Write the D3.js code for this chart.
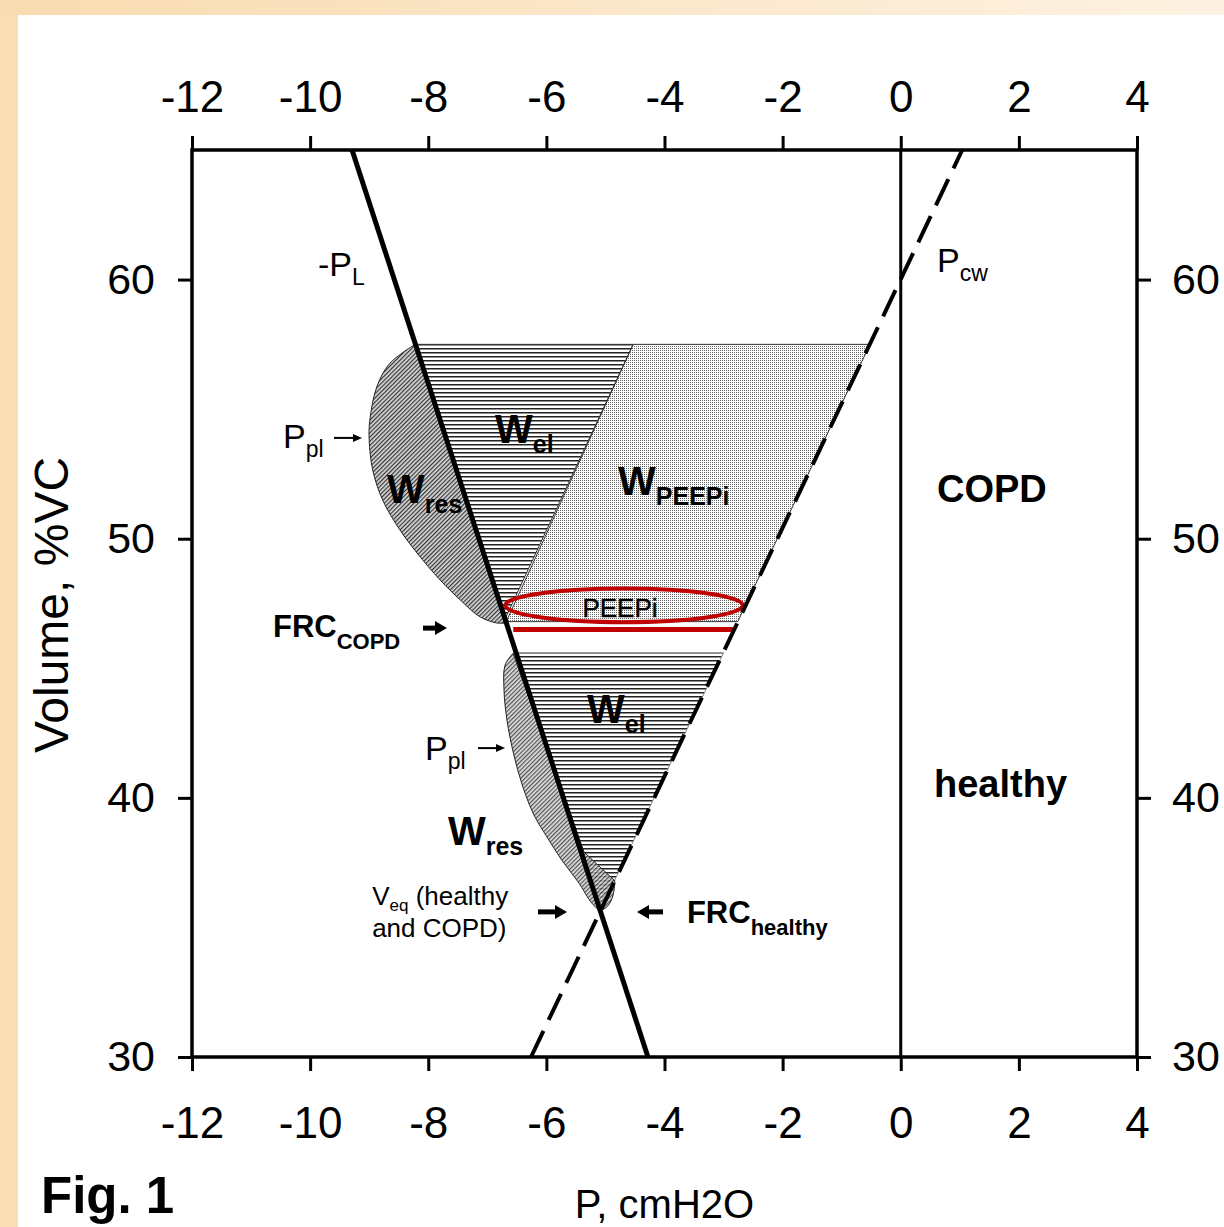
<!DOCTYPE html>
<html>
<head>
<meta charset="utf-8">
<script src="https://cdn.jsdelivr.net/npm/d3@7"></script>
<style>
    html, body { margin: 0; padding: 0; background: #fff; }
    svg { display: block; font-family: "Liberation Sans", Arial, sans-serif; }
</style>
</head>
<body>
<svg id="fig" width="1224" height="1227"></svg>
<script>
// tick values
const pTicks = [-12, -10, -8, -6, -4, -2, 0, 2, 4];
const vTicks = [30, 40, 50, 60];

// pressure-volume lines, [P cmH2O, V %VC]
const lungLine = [[-9.29, 65], [-4.28, 30]];       // -PL
const chestWallLine = [[-6.26, 30], [1.04, 65]];   // Pcw
const zeroLine = [[0, 30], [0, 65]];

// work areas
const peepiArea = [[-4.53, 57.5], [-0.52, 57.5], [-2.76, 46.8], [-6.68, 46.8]];
const copdElArea = [[-8.22, 57.5], [-4.53, 57.5], [-6.70, 46.9]];
const healthyElArea = [[-6.51, 45.6], [-3.0, 45.6], [-5.09, 35.65]];
const copdResCurve = [[-8.22, 57.5], [-8.65, 56.77], [-8.87, 55.87], [-8.99, 54.56], [-9.0, 53.8],
    [-8.94, 52.65], [-8.77, 51.48], [-8.48, 50.34], [-8.19, 49.45], [-7.80, 48.41],
    [-7.46, 47.64], [-7.12, 46.98], [-6.84, 46.75], [-6.68, 46.75]];
const healthyResCurve = [[-6.565, 45.58], [-6.70, 45.12], [-6.717, 44.16], [-6.667, 43.0],
    [-6.55, 41.65], [-6.396, 40.41], [-6.21, 39.34], [-5.99, 38.49], [-5.74, 37.6],
    [-5.46, 36.75], [-5.23, 35.94], [-5.09, 35.67], [-4.96, 35.83], [-4.87, 36.25], [-4.84, 36.8]];
const healthyResJoin = [-5.36, 37.9]; // back onto the -PL line

// intrinsic PEEP marks
const peepiRing = [{p: -4.685, v: 47.43, dp: 2.01, dv: 0.65}];
const peepiBar = [[-6.56, 46.5], [-2.84, 46.5]];

// annotations
const labelText = [
    {main: '-P', sub: 'L', p: -9.867, v: 60.14, kind: 'pressure'},
    {main: 'P', sub: 'cw', p: 0.614, v: 60.29, kind: 'pressure'},
    {main: 'P', sub: 'pl', p: -10.459, v: 53.50, kind: 'pressure'},
    {main: 'P', sub: 'pl', p: -8.055, v: 41.46, kind: 'pressure'},
    {main: 'W', sub: 'el', p: -6.870, v: 53.69, kind: 'work'},
    {main: 'W', sub: 'res', p: -8.698, v: 51.38, kind: 'work'},
    {main: 'W', sub: 'PEEPi', p: -4.787, v: 51.69, kind: 'work'},
    {main: 'W', sub: 'el', p: -5.312, v: 42.89, kind: 'work'},
    {main: 'W', sub: 'res', p: -7.666, v: 38.18, kind: 'work'},
    {main: 'FRC', sub: 'COPD', p: -10.629, v: 46.20, kind: 'frc'},
    {main: 'FRC', sub: 'healthy', p: -3.62, v: 35.17, kind: 'frc'},
    {main: 'COPD', sub: '', p: 0.614, v: 51.42, kind: 'state'},
    {main: 'healthy', sub: '', p: 0.563, v: 40.03, kind: 'state'},
    {main: 'V', sub: 'eq', rest: ' (healthy', p: -8.95, v: 35.86, kind: 'note'},
    {main: 'and COPD)', sub: '', p: -8.95, v: 34.62, kind: 'note'}
];
const ringText = [{text: 'PEEPi', p: -4.753, v: 46.98}];
const arrowMarks = [
    {p1: -9.596, p2: -9.122, v: 53.89, kind: 'thin'},
    {p1: -7.158, p2: -6.700, v: 41.92, kind: 'thin'},
    {p1: -8.089, p2: -7.683, v: 46.55, kind: 'thick'},
    {p1: -6.142, p2: -5.651, v: 35.60, kind: 'thick'},
    {p1: -4.025, p2: -4.466, v: 35.60, kind: 'thick'}
];

window.Fig = window.Fig || {};

Fig.init = function() {
    Fig.svg = d3.select('#fig');
    Fig.x = d3.scaleLinear().domain([-12, 4]).range([192, 1137]);
    Fig.y = d3.scaleLinear().domain([30, 65]).range([1057, 150]);
    Fig.line = d3.line().x(d => Fig.x(d[0])).y(d => Fig.y(d[1]));

    Fig.setup.background();
    Fig.setup.patterns();
    Fig.draw.areas();
    Fig.draw.peepi();
    Fig.draw.lines();
    Fig.draw.axes();
    Fig.draw.labels();
    Fig.draw.arrows();
};

Fig.labelStyles = {
    work: {size: 40, subSize: 25, weight: 'bold', dy: 10},
    frc: {size: 31, subSize: 22, weight: 'bold', dy: 12},
    pressure: {size: 34, subSize: 23, weight: 'normal', dy: 9},
    state: {size: 38, subSize: 0, weight: 'bold', dy: 0},
    note: {size: 26, subSize: 17, weight: 'normal', dy: 6}
};

Fig.setup = {
    background: function() {
        let defs = Fig.svg.append('defs');
        let grad = defs.append('linearGradient').attr('id', 'topband');
        grad.append('stop').attr('offset', '0%').attr('stop-color', '#f9dbb0');
        grad.append('stop').attr('offset', '100%').attr('stop-color', '#fdf2e2');

        Fig.svg.append('rect').attr('width', 1224).attr('height', 1227).attr('fill', '#f9ddb3');
        Fig.svg.append('rect').attr('width', 1224).attr('height', 15).attr('fill', 'url(#topband)');
        Fig.svg.append('rect').attr('x', 18).attr('y', 15)
            .attr('width', 1206).attr('height', 1212).attr('fill', '#fff');
    },

    patterns: function() {
        let defs = Fig.svg.select('defs');

        // fine stipple for W_PEEPi
        let dots = defs.append('pattern').attr('id', 'dots')
            .attr('patternUnits', 'userSpaceOnUse').attr('width', 2).attr('height', 2);
        dots.append('rect').attr('width', 1).attr('height', 1).attr('fill', '#666');

        // horizontal hatch for W_el
        let hor = defs.append('pattern').attr('id', 'hlines')
            .attr('patternUnits', 'userSpaceOnUse').attr('width', 8).attr('height', 4);
        hor.append('rect').attr('width', 8).attr('height', 1.5).attr('fill', '#222');

        // diagonal hatch for W_res
        let diag = defs.append('pattern').attr('id', 'dlines')
            .attr('patternUnits', 'userSpaceOnUse').attr('width', 3).attr('height', 3)
            .attr('patternTransform', 'rotate(45)');
        diag.append('rect').attr('width', 3).attr('height', 3).attr('fill', '#d8d8d8');
        diag.append('rect').attr('width', 1.2).attr('height', 3).attr('fill', '#333');
    }
};

Fig.draw = {
    areas: function() {
        let g = Fig.svg.append('g');

        g.append('path').attr('d', Fig.line(peepiArea) + 'Z')
            .attr('fill', 'url(#dots)').attr('stroke', '#333').attr('stroke-width', 1);
        g.append('path').attr('d', Fig.line(copdElArea) + 'Z')
            .attr('fill', 'url(#hlines)').attr('stroke', '#333').attr('stroke-width', 1);
        g.append('path').attr('d', Fig.line(healthyElArea) + 'Z')
            .attr('fill', 'url(#hlines)').attr('stroke', '#888').attr('stroke-width', 1);

        let curve = d3.line().x(d => Fig.x(d[0])).y(d => Fig.y(d[1])).curve(d3.curveCatmullRom);

        g.append('path').attr('d', curve(copdResCurve) + 'Z')
            .attr('fill', 'url(#dlines)').attr('stroke', '#222').attr('stroke-width', 1);
        g.append('path')
            .attr('d', curve(healthyResCurve) + 'L' + Fig.x(healthyResJoin[0]) + ',' + Fig.y(healthyResJoin[1]) + 'Z')
            .attr('fill', 'url(#dlines)').attr('fill-opacity', 0.85)
            .attr('stroke', '#222').attr('stroke-width', 1);
    },

    peepi: function() {
        Fig.svg.append('g').selectAll('ellipse')
            .data(peepiRing)
            .enter()
                .append('ellipse')
                    .attr('cx', d => Fig.x(d.p))
                    .attr('cy', d => Fig.y(d.v))
                    .attr('rx', d => Fig.x(d.p + d.dp) - Fig.x(d.p))
                    .attr('ry', d => Fig.y(d.v - d.dv) - Fig.y(d.v))
                    .attr('fill', 'none')
                    .attr('stroke', '#c00000')
                    .attr('stroke-width', 4);

        Fig.svg.append('path').attr('d', Fig.line(peepiBar))
            .attr('stroke', '#c00000').attr('stroke-width', 5);

        Fig.svg.append('g').selectAll('text')
            .data(ringText)
            .enter()
                .append('text')
                    .attr('x', d => Fig.x(d.p))
                    .attr('y', d => Fig.y(d.v))
                    .attr('text-anchor', 'middle')
                    .attr('font-size', 26)
                    .attr('stroke', '#000').attr('stroke-width', 0.4)
                    .text(d => d.text);
    },

    lines: function() {
        Fig.svg.append('path').attr('d', Fig.line(lungLine))
            .attr('stroke', '#000').attr('stroke-width', 5);
        Fig.svg.append('path').attr('d', Fig.line(chestWallLine))
            .attr('stroke', '#000').attr('stroke-width', 4)
            .attr('stroke-dasharray', '29,12');
        Fig.svg.append('path').attr('d', Fig.line(zeroLine))
            .attr('stroke', '#000').attr('stroke-width', 3);
    },

    axes: function() {
        let fmt = d => String(d);
        let style = function(g, size) {
            g.select('.domain').remove();
            g.selectAll('.tick line').attr('stroke', '#000').attr('stroke-width', 3);
            g.selectAll('.tick text').attr('fill', '#000')
                .attr('font-size', size).attr('font-family', '"Liberation Sans", Arial, sans-serif');
        };

        Fig.svg.append('g').attr('transform', 'translate(0,150)')
            .call(d3.axisTop(Fig.x).tickValues(pTicks).tickFormat(fmt).tickSize(14).tickPadding(24))
            .call(g => style(g, 44));
        Fig.svg.append('g').attr('transform', 'translate(0,1057)')
            .call(d3.axisBottom(Fig.x).tickValues(pTicks).tickFormat(fmt).tickSize(14).tickPadding(36))
            .call(g => style(g, 44));
        Fig.svg.append('g').attr('transform', 'translate(192,0)')
            .call(d3.axisLeft(Fig.y).tickValues(vTicks).tickFormat(fmt).tickSize(14).tickPadding(23))
            .call(g => style(g, 43));
        Fig.svg.append('g').attr('transform', 'translate(1137,0)')
            .call(d3.axisRight(Fig.y).tickValues(vTicks).tickFormat(fmt).tickSize(14).tickPadding(21))
            .call(g => style(g, 43));

        // plot frame
        Fig.svg.append('rect')
            .attr('x', Fig.x(-12)).attr('y', Fig.y(65))
            .attr('width', Fig.x(4) - Fig.x(-12)).attr('height', Fig.y(30) - Fig.y(65))
            .attr('fill', 'none').attr('stroke', '#000').attr('stroke-width', 3.5);

        // axis titles
        Fig.svg.append('text')
            .attr('transform', 'translate(68,605) rotate(-90)')
            .attr('text-anchor', 'middle').attr('font-size', 48)
            .text('Volume, %VC');
        Fig.svg.append('text')
            .attr('x', (Fig.x(-12) + Fig.x(4)) / 2).attr('y', 1218)
            .attr('text-anchor', 'middle').attr('font-size', 40)
            .text('P, cmH2O');
        Fig.svg.append('text')
            .attr('x', 41).attr('y', 1213)
            .attr('font-size', 51).attr('font-weight', 'bold')
            .text('Fig. 1');
    },

    labels: function() {
        let t = Fig.svg.append('g').selectAll('text')
            .data(labelText)
            .enter()
                .append('text')
                    .attr('x', d => Fig.x(d.p))
                    .attr('y', d => Fig.y(d.v))
                    .attr('font-size', d => Fig.labelStyles[d.kind].size)
                    .attr('font-weight', d => Fig.labelStyles[d.kind].weight);

        t.append('tspan').text(d => d.main);
        t.filter(d => d.sub).append('tspan')
            .attr('dy', d => Fig.labelStyles[d.kind].dy)
            .attr('font-size', d => Fig.labelStyles[d.kind].subSize)
            .text(d => d.sub);
        t.filter(d => d.rest).append('tspan')
            .attr('dy', d => -Fig.labelStyles[d.kind].dy)
            .text(d => d.rest);
    },

    arrows: function() {
        let g = Fig.svg.append('g');
        arrowMarks.forEach(function(a) {
            let x1 = Fig.x(a.p1), x2 = Fig.x(a.p2), yy = Fig.y(a.v);
            let dir = x2 > x1 ? 1 : -1;
            let head = a.kind == 'thick' ? 12 : 9;
            let half = a.kind == 'thick' ? 7 : 4;
            g.append('line')
                .attr('x1', x1).attr('x2', x2 - dir * head + dir)
                .attr('y1', yy).attr('y2', yy)
                .attr('stroke', '#000').attr('stroke-width', a.kind == 'thick' ? 5 : 2);
            g.append('path')
                .attr('d', 'M' + x2 + ',' + yy + 'L' + (x2 - dir * head) + ',' + (yy - half) +
                    'L' + (x2 - dir * head) + ',' + (yy + half) + 'Z')
                .attr('fill', '#000');
        });
    }
};

document.addEventListener('DOMContentLoaded', Fig.init);
</script>
</body>
</html>
